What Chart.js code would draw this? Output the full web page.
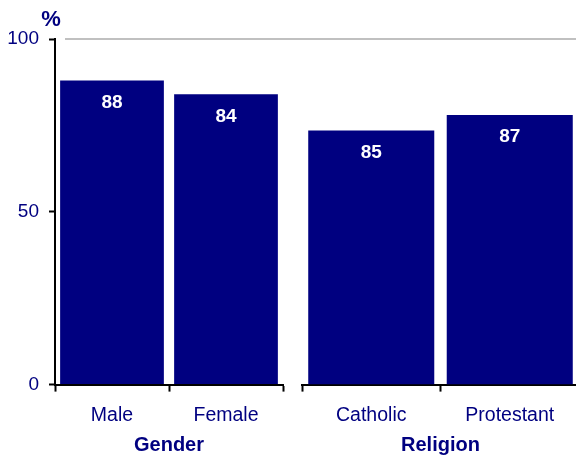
<!DOCTYPE html>
<html>
<head>
<meta charset="utf-8">
<script src="https://cdn.jsdelivr.net/npm/chart.js@4/dist/chart.umd.min.js"></script>
<style>
  body { margin: 0; width: 576px; height: 458px; overflow: hidden; background: #fff; position: relative; }
  canvas { position: absolute; top: 0; }
  #gender { left: 0; }
  #religion { left: 283px; }
</style>
</head>
<body>
<canvas id="gender" width="290" height="458"></canvas>
<canvas id="religion" width="300" height="458"></canvas>
<script>
// values
const genderLabels = ['Male', 'Female'];
const genderBars = [88, 84];
const genderShown = [88, 84];

const religionLabels = ['Catholic', 'Protestant'];
const religionBars = [73.5, 78];
const religionShown = [85, 87];

const yTicksMax = 100;
const yStep = 50;

const navy = '#000080';
const fontFamily = '"Liberation Sans", Arial, sans-serif';

// light grey line at the top of the value axis
const refLine = {
    id: 'refLine',
    beforeDatasetsDraw(chart, args, opts) {
        const ctx = chart.ctx;
        const y = chart.scales.y.getPixelForValue(yTicksMax);
        const x0 = opts.fromEdge ? 0 : chart.chartArea.left + opts.inset;
        ctx.save();
        ctx.strokeStyle = '#c0c0c0';
        ctx.lineWidth = 2;
        ctx.beginPath();
        ctx.moveTo(x0, y);
        ctx.lineTo(chart.chartArea.right, y);
        ctx.stroke();
        ctx.restore();
    }
};

// white numbers inside the bars
const valueLabels = {
    id: 'valueLabels',
    afterDatasetsDraw(chart, args, opts) {
        const ctx = chart.ctx;
        const meta = chart.getDatasetMeta(0);
        ctx.save();
        ctx.fillStyle = '#fff';
        ctx.font = 'bold 19px ' + fontFamily;
        ctx.textAlign = 'center';
        ctx.textBaseline = 'middle';
        meta.data.forEach(function (bar, i) {
            ctx.fillText(String(opts.shown[i]), bar.x, bar.y + 22);
        });
        ctx.restore();
    }
};

// "%" above the value axis
const percentSign = {
    id: 'percentSign',
    afterDraw(chart, args, opts) {
        if (!opts.show) return;
        const ctx = chart.ctx;
        ctx.save();
        ctx.fillStyle = navy;
        ctx.font = 'bold 22px ' + fontFamily;
        ctx.textAlign = 'center';
        ctx.textBaseline = 'middle';
        ctx.fillText('%', chart.chartArea.left - 4, chart.chartArea.top - 19);
        ctx.restore();
    }
};

function plotGroup(idChart, labels, bars, shown, groupName, showY, padding) {
    let config = {
        type: 'bar',
        data: {
            labels: labels,
            datasets: [{
                data: bars,
                backgroundColor: navy,
                borderWidth: 0,
                categoryPercentage: 1,
                barPercentage: 0.91
            }]
        },
        options: {
            responsive: false,
            animation: false,
            devicePixelRatio: 1,
            layout: { padding: padding },
            plugins: {
                legend: { display: false },
                tooltip: { enabled: false },
                refLine: { fromEdge: !showY, inset: 10 },
                valueLabels: { shown: shown },
                percentSign: { show: showY }
            },
            scales: {
                x: {
                    grid: {
                        offset: true,
                        drawOnChartArea: false,
                        tickLength: 7,
                        tickColor: '#000',
                        tickWidth: 2
                    },
                    border: { color: '#000', width: 2 },
                    ticks: {
                        color: navy,
                        padding: 12,
                        font: { family: fontFamily, size: 19.5 }
                    },
                    title: {
                        display: true,
                        text: groupName,
                        color: navy,
                        font: { family: fontFamily, size: 20, weight: 'bold' },
                        padding: { top: -6, bottom: 1 }
                    }
                },
                y: {
                    display: showY,
                    min: 0,
                    max: yTicksMax,
                    afterFit: showY ? function (scale) { scale.width = 47; } : undefined,
                    grid: {
                        drawOnChartArea: false,
                        tickLength: 6,
                        tickColor: '#000',
                        tickWidth: 2
                    },
                    border: { color: '#000', width: 2 },
                    ticks: {
                        stepSize: yStep,
                        color: navy,
                        padding: 10,
                        font: { family: fontFamily, size: 19 }
                    }
                }
            }
        },
        plugins: [refLine, valueLabels, percentSign]
    };
    return new Chart(document.getElementById(idChart), config);
}

plotGroup('gender', genderLabels, genderBars, genderShown, 'Gender', true,
    { top: 39, left: 8, right: 7, bottom: 0 });
plotGroup('religion', religionLabels, religionBars, religionShown, 'Religion', false,
    { top: 39, left: 19, right: 4, bottom: 0 });
</script>
</body>
</html>
